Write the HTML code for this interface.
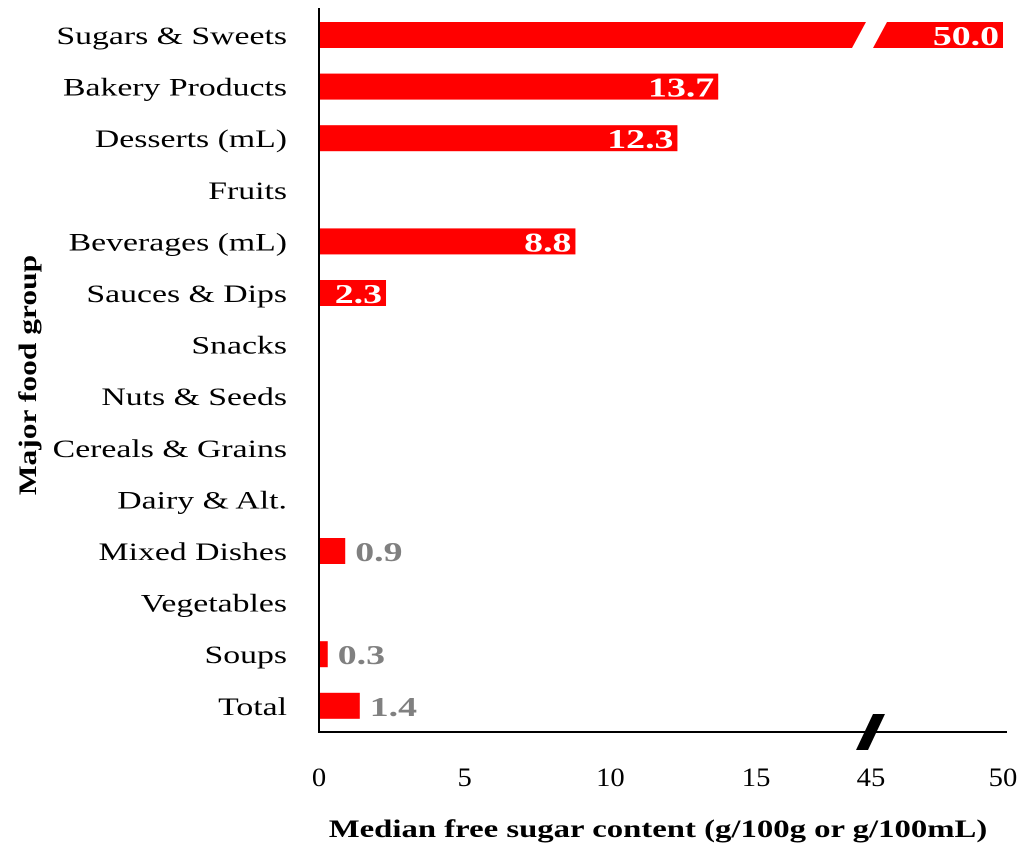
<!DOCTYPE html>
<html><head><meta charset="utf-8"><style>
body{margin:0;background:#fff}
svg{display:block;font-family:"Liberation Serif",serif}
</style></head><body>
<svg width="1024" height="855" viewBox="0 0 1024 855">
<g id="bars"></g>
<line x1="319" y1="8" x2="319" y2="733" stroke="#000" stroke-width="2"/>
<line x1="318" y1="732" x2="1007" y2="732" stroke="#000" stroke-width="2"/>
<polygon points="873,714 885,714 868,750 856,750" fill="#000"/>
<g id="ticks"></g>
<text id="xt" x="658" y="837" text-anchor="middle" font-size="25" font-weight="bold">Median free sugar content (g/100g or g/100mL)</text>
<text id="yt" transform="translate(36,375) rotate(-90)" text-anchor="middle" font-size="25" font-weight="bold">Major food group</text>
</svg>
<script>
const categories=["Sugars & Sweets","Bakery Products","Desserts (mL)","Fruits","Beverages (mL)","Sauces & Dips","Snacks","Nuts & Seeds","Cereals & Grains","Dairy & Alt.","Mixed Dishes","Vegetables","Soups","Total"];
const values=[50.0,13.7,12.3,null,8.8,2.3,null,null,null,null,0.9,null,0.3,1.4];
const tickValues=[0,5,10,15,45,50];
const NS="http://www.w3.org/2000/svg";
function x(v){return v<=30?319+v*29.14:871+(v-45)*26.4;}
function y(i){return 35+i*51.6;}
const bars=document.getElementById('bars'),ticks=document.getElementById('ticks');
function mk(tag,attrs,parent){const e=document.createElementNS(NS,tag);for(const k in attrs)e.setAttribute(k,attrs[k]);parent.appendChild(e);return e;}
function stretch(el,f){const w=el.getComputedTextLength();el.setAttribute('textLength',w*f);el.setAttribute('lengthAdjust','spacingAndGlyphs');}
categories.forEach((c,i)=>{
  const t=mk('text',{x:287,y:y(i)+9,'text-anchor':'end','font-size':25},ticks);
  
  
  t.textContent=c;
  stretch(t,1.35);
  const v=values[i];if(v==null)return;
  const top=y(i)-13,bot=y(i)+13;
  if(v>30){
    const p1=mk('polygon',{points:`319,${top} 866,${top} 852,${bot} 319,${bot}`,fill:'#ff0000'},bars);
    
    
    const p2=mk('polygon',{points:`887,${top} ${x(v)},${top} ${x(v)},${bot} 873,${bot}`,fill:'#ff0000'},bars);
    
    
  }else{
    const r=mk('rect',{x:319,y:top,width:x(v)-319,height:26,fill:'#ff0000'},bars);
    
    
  }
  const inside=v>=2;
  const l=mk('text',{x:inside?x(v)-4:x(v)+10,y:y(i)+10,'text-anchor':inside?'end':'start','font-size':27,'font-weight':'bold',fill:inside?'#fff':'#808080'},bars);
  
  
  l.textContent=v.toFixed(1);
  stretch(l,1.4);
});
tickValues.forEach(v=>{
  const t=mk('text',{x:x(v),y:786,'text-anchor':'middle','font-size':26},ticks);
  
  
  t.textContent=v;
  stretch(t,1.1);
});
stretch(document.getElementById('xt'),1.31);
stretch(document.getElementById('yt'),1.26);
</script>
</body></html>
